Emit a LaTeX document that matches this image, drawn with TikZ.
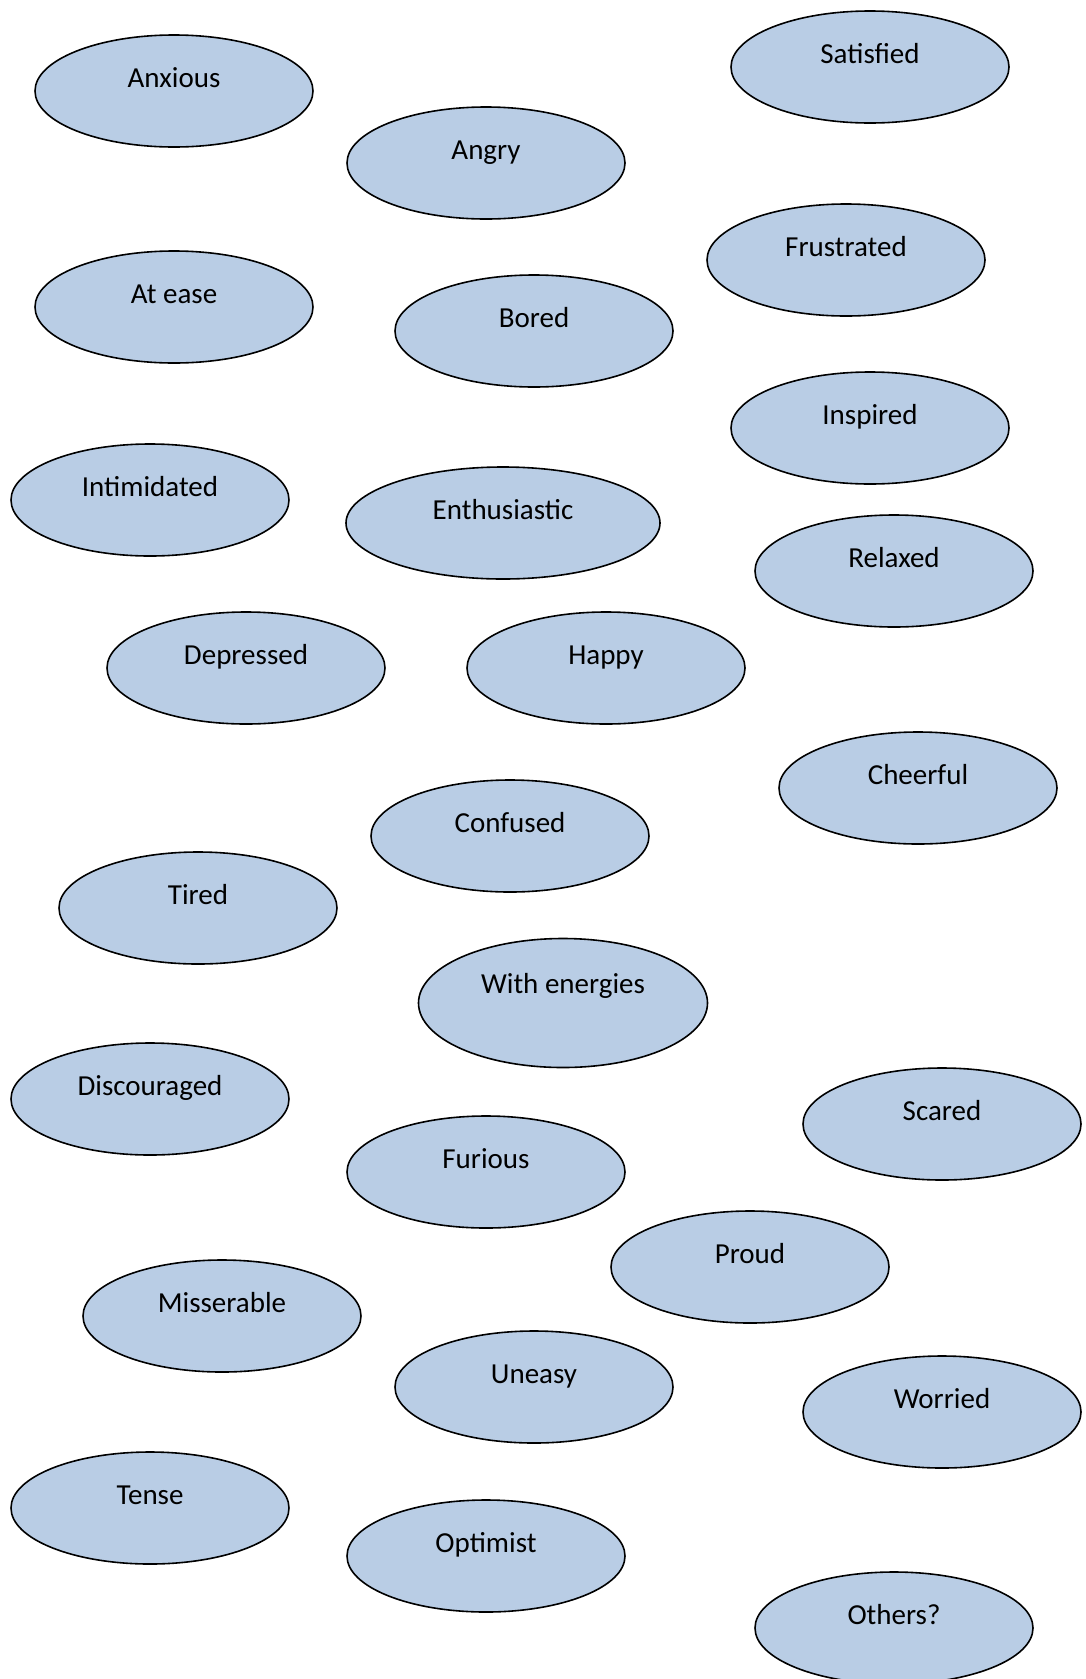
\documentclass[tikz,border=0pt]{standalone}
\usepackage{fontspec}
\setmainfont{Carlito}
\usetikzlibrary{shapes.geometric}
\definecolor{moodfill}{HTML}{B9CDE5}
\tikzset{
  mood/.style={ellipse, draw=black, line width=1.6pt, fill=moodfill,
    inner sep=0pt, minimum width=278pt, minimum height=112pt},
  moodtext/.style={anchor=base, inner sep=0pt,
    font=\fontsize{29}{34}\selectfont},
  textdrop/.store in=\moodtextdrop, textdrop=53pt,
}
% \moodbubble[size keys]{name}{x}{y}{label}
\newcommand{\moodbubble}[5][]{%
  \begin{scope}[#1]
  \node[mood,#1] (#2) at (#3,#4) {};
  \node[moodtext] (#2-t) at ([yshift=-\moodtextdrop]#2.north) {#5};
  \end{scope}
}
\begin{document}
\begin{tikzpicture}[x=1pt,y=-1pt]
\useasboundingbox (0,0) rectangle (1086,1679);
\clip (0,0) rectangle (1086,1679);
\tikzset{textdrop=53pt}
\moodbubble{anxious}{174}{91}{Anxious}
\moodbubble{angry}{486}{163}{Angry}
\moodbubble{satisfied}{870}{67}{Satisfied}
\moodbubble{frustrated}{846}{260}{Frustrated}
\moodbubble{atease}{174}{307}{At ease}
\moodbubble{bored}{534}{331}{Bored}
\moodbubble{inspired}{870}{428}{Inspired}
\moodbubble{intimidated}{150}{500}{Intimidated}
\moodbubble[minimum width=314pt]{enthusiastic}{503}{523}{Enthusiastic}
\moodbubble{relaxed}{894}{571}{Relaxed}
\moodbubble{depressed}{246}{668}{Depressed}
\moodbubble{happy}{606}{668}{Happy}
\moodbubble{cheerful}{918}{788}{Cheerful}
\moodbubble{confused}{510}{836}{Confused}
\moodbubble{tired}{198}{908}{Tired}
\moodbubble[minimum width=289pt, minimum height=129pt, textdrop=56pt]{energies}{563}{1003}{With energies}
\moodbubble{discouraged}{150}{1099}{Discouraged}
\moodbubble{scared}{942}{1124}{Scared}
\moodbubble{furious}{486}{1172}{Furious}
\moodbubble{proud}{750}{1267}{Proud}
\moodbubble{misserable}{222}{1316}{Misserable}
\moodbubble{uneasy}{534}{1387}{Uneasy}
\moodbubble{worried}{942}{1412}{Worried}
\moodbubble{tense}{150}{1508}{Tense}
\moodbubble{optimist}{486}{1556}{Optimist}
\moodbubble{others}{894}{1628}{Others?}
\end{tikzpicture}
\end{document}
